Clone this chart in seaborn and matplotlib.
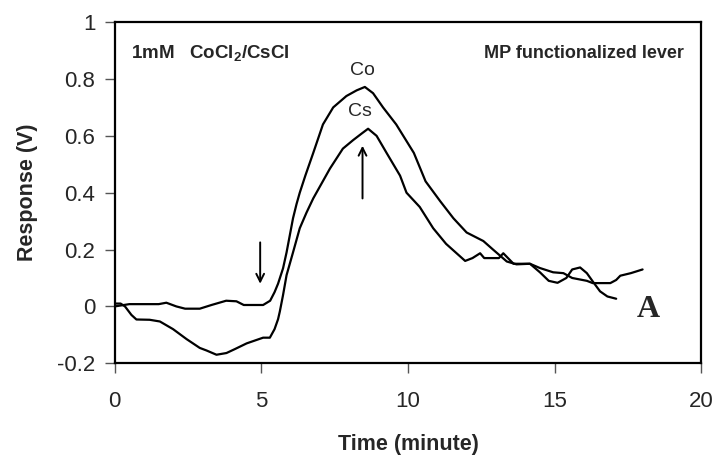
import matplotlib
matplotlib.use("Agg")
import matplotlib.pyplot as plt
import seaborn as sns
import pandas as pd

# ---- data ----
co_t = [0, 0.5, 1.0, 1.5, 1.76, 2.1, 2.4, 2.9, 3.3, 3.8, 4.15, 4.4, 5.06, 5.3, 5.45,
        5.57, 5.74, 5.86, 5.97, 6.08, 6.2, 6.31, 6.5, 6.77, 7.1, 7.45, 7.9, 8.25, 8.53,
        8.81, 9.15, 9.6, 10.2, 10.6, 11.1, 11.55, 12.0, 12.57, 12.9, 13.37, 13.7, 14.16,
        14.5, 14.95, 15.3, 15.6, 16.1, 16.3, 16.9, 17.1, 17.24, 17.6, 18.0]
co_v = [0.0, 0.008, 0.008, 0.008, 0.013, 0.0, -0.008, -0.008, 0.005, 0.02, 0.018, 0.005,
        0.005, 0.02, 0.05, 0.08, 0.134, 0.19, 0.25, 0.31, 0.36, 0.40, 0.46, 0.54, 0.64,
        0.70, 0.74, 0.76, 0.772, 0.75, 0.70, 0.64, 0.54, 0.44, 0.37, 0.31, 0.26, 0.23,
        0.20, 0.158, 0.148, 0.15, 0.135, 0.12, 0.117, 0.10, 0.09, 0.082, 0.082, 0.093,
        0.108, 0.117, 0.13]

cs_t = [0, 0.2, 0.35, 0.57, 0.74, 1.19, 1.54, 1.99, 2.45, 2.9, 3.13, 3.47, 3.81, 4.1,
        4.5, 5.06, 5.29, 5.45, 5.57, 5.63, 5.74, 5.86, 6.08, 6.31, 6.54, 6.77, 7.34, 7.78,
        8.13, 8.42, 8.64, 8.93, 9.27, 9.73, 9.95, 10.4, 10.86, 11.3, 11.95, 12.2, 12.46,
        12.6, 13.1, 13.25, 13.6, 14.16, 14.5, 14.8, 15.1, 15.4, 15.6, 15.87, 16.1, 16.3,
        16.55, 16.8, 17.1]
cs_v = [0.01, 0.01, 0.0, -0.03, -0.046, -0.047, -0.053, -0.08, -0.115, -0.146, -0.155,
        -0.17, -0.164, -0.15, -0.13, -0.11, -0.11, -0.08, -0.045, -0.018, 0.04, 0.11,
        0.19, 0.275, 0.33, 0.38, 0.485, 0.555, 0.585, 0.608, 0.625, 0.60, 0.54, 0.46,
        0.40, 0.35, 0.275, 0.22, 0.16, 0.17, 0.187, 0.17, 0.17, 0.187, 0.15, 0.15, 0.12,
        0.09, 0.083, 0.10, 0.13, 0.137, 0.117, 0.088, 0.053, 0.035, 0.027]

x_ticks = [0, 5, 10, 15, 20]
y_ticks = [-0.2, 0, 0.2, 0.4, 0.6, 0.8, 1]
y_tick_labels = ["-0.2", "0", "0.2", "0.4", "0.6", "0.8", "1"]

title_left = "1mM   CoCl$_\\mathbf{2}$/CsCl"
title_right = "MP functionalized lever"
panel_label = "A"

# ---- plotting ----
sns.set_style("white")
plt.rcParams["font.family"] = ["Liberation Sans", "DejaVu Sans"]
plt.rcParams["mathtext.fontset"] = "custom"
plt.rcParams["mathtext.rm"] = "Liberation Sans"
plt.rcParams["mathtext.bf"] = "Liberation Sans:bold"

fig = plt.figure(figsize=(7.17, 4.61), dpi=100)
ax = fig.add_axes([0.160, 0.212, 0.818, 0.740])

df_co = pd.DataFrame({"t": co_t, "v": co_v})
df_cs = pd.DataFrame({"t": cs_t, "v": cs_v})
sns.lineplot(data=df_co, x="t", y="v", ax=ax, color="black", lw=1.6, sort=False)
sns.lineplot(data=df_cs, x="t", y="v", ax=ax, color="black", lw=1.6, sort=False)

ax.set_xlim(0, 20)
ax.set_ylim(-0.2, 1)
ax.set_xticks(x_ticks)
ax.set_xticklabels([str(v) for v in x_ticks])
ax.set_yticks(y_ticks)
ax.set_yticklabels(y_tick_labels)
ax.tick_params(axis="both", which="major", labelsize=16, direction="out",
               length=7, width=1, color="#555555", bottom=True, left=True)
ax.tick_params(axis="x", pad=13)
ax.tick_params(axis="y", pad=7)
for s in ax.spines.values():
    s.set_color("black")
    s.set_linewidth(1.6)

ax.set_xlabel("Time (minute)", fontsize=15.5, fontweight="bold", labelpad=16)
ax.set_ylabel("Response (V)", fontsize=15.5, fontweight="bold", labelpad=14)

ax.text(0.55, 0.89, title_left, fontsize=13.5, fontweight="bold", ha="left", va="center")
ax.text(19.4, 0.89, title_right, fontsize=13, fontweight="bold", ha="right", va="center")
ax.text(8.45, 0.83, "Co", fontsize=14, ha="center", va="center")
ax.text(8.35, 0.685, "Cs", fontsize=14, ha="center", va="center")
ax.text(18.2, -0.01, panel_label, fontsize=23, fontweight="bold",
        family=["Liberation Serif"], ha="center", va="center")

ax.annotate("", xy=(8.45, 0.575), xytext=(8.45, 0.37),
            arrowprops=dict(arrowstyle="->", color="black", lw=1.4, mutation_scale=14))
ax.annotate("", xy=(4.96, 0.07), xytext=(4.96, 0.235),
            arrowprops=dict(arrowstyle="->", color="black", lw=1.4, mutation_scale=14))

fig.savefig("out.png", dpi=100)
